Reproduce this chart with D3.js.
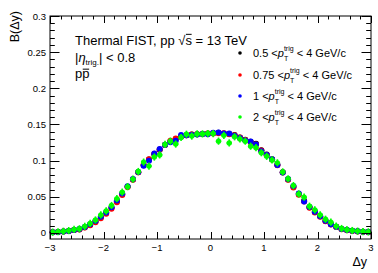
<!DOCTYPE html>
<html><head><meta charset="utf-8">
<script src="https://cdn.jsdelivr.net/npm/d3@7"></script>
<style>
html,body{margin:0;padding:0;background:#fff;}
svg{display:block;font-family:"Liberation Sans",Arial,Helvetica,sans-serif;}
svg text{white-space:pre;}
</style></head><body>
<svg id="chart" width="378" height="273"></svg>
<script>
// ---- data ----
const deltaY = [-2.95,-2.85,-2.75,-2.65,-2.55,-2.45,-2.35,-2.25,-2.15,-2.05,-1.95,-1.85,-1.75,-1.65,-1.55,-1.45,-1.35,-1.25,-1.15,-1.05,-0.95,-0.85,-0.75,-0.65,-0.55,-0.45,-0.35,-0.25,-0.15,-0.05,
  0.05,0.15,0.25,0.35,0.45,0.55,0.65,0.75,0.85,0.95,1.05,1.15,1.25,1.35,1.45,1.55,1.65,1.75,1.85,1.95,2.05,2.15,2.25,2.35,2.45,2.55,2.65,2.75,2.85,2.95];
const seriesPt05 = [0.0010,0.0014,0.0020,0.0028,0.0042,0.0052,0.0080,0.0115,0.0160,0.0220,0.0280,0.0350,0.0440,0.0535,0.0640,0.0740,0.0840,0.0935,0.1015,0.1090,0.1150,0.1215,0.1265,0.1300,0.1330,0.1350,0.1360,0.1365,0.1370,0.1375,
  0.1380,0.1385,0.1375,0.1370,0.1355,0.1320,0.1290,0.1260,0.1235,0.1145,0.1085,0.1020,0.0945,0.0840,0.0740,0.0640,0.0540,0.0445,0.0355,0.0290,0.0230,0.0165,0.0120,0.0085,0.0055,0.0040,0.0030,0.0023,0.0017,0.0013];
const seriesPt075 = [0.0009,0.0013,0.0019,0.0027,0.0040,0.0050,0.0075,0.0108,0.0150,0.0205,0.0265,0.0335,0.0425,0.0525,0.0635,0.0735,0.0840,0.0945,0.1020,0.1095,0.1155,0.1220,0.1275,0.1305,0.1335,0.1350,0.1360,0.1365,0.1370,0.1375,
  0.1375,0.1380,0.1380,0.1365,0.1350,0.1320,0.1285,0.1255,0.1225,0.1140,0.1080,0.1015,0.0935,0.0835,0.0735,0.0630,0.0530,0.0435,0.0350,0.0285,0.0225,0.0162,0.0118,0.0082,0.0053,0.0039,0.0029,0.0022,0.0016,0.0012];
const seriesPt1 = [0.0010,0.0014,0.0020,0.0029,0.0043,0.0054,0.0083,0.0120,0.0165,0.0225,0.0285,0.0355,0.0450,0.0545,0.0645,0.0745,0.0845,0.0930,0.1000,0.1100,0.1160,0.1220,0.1255,0.1275,0.1355,0.1350,0.1355,0.1360,0.1370,0.1365,
  0.1385,0.1390,0.1375,0.1375,0.1345,0.1315,0.1280,0.1265,0.1225,0.1130,0.1080,0.1020,0.0940,0.0835,0.0745,0.0650,0.0545,0.0435,0.0360,0.0295,0.0232,0.0168,0.0122,0.0086,0.0056,0.0041,0.0031,0.0024,0.0018,0.0014];
const seriesPt2 = [0.0012,0.0017,0.0024,0.0033,0.0050,0.0058,0.0092,0.0132,0.0180,0.0250,0.0305,0.0380,0.0475,0.0565,0.0640,0.0745,0.0850,0.0980,0.0925,0.1050,0.1080,0.1225,0.1270,0.1230,0.1320,0.1365,0.1340,0.1370,0.1370,0.1375,
  0.1375,0.1270,0.1350,0.1245,0.1330,0.1300,0.1270,0.1200,0.1180,0.1110,0.1060,0.1010,0.0970,0.0845,0.0750,0.0655,0.0540,0.0495,0.0370,0.0320,0.0250,0.0190,0.0150,0.0095,0.0062,0.0046,0.0034,0.0026,0.0020,0.0016];
const seriesLabels = ["0.5", "0.75", "1", "2"];
const seriesColors = ["#000000", "#ff0000", "#0000ff", "#00ff00"];
const xTicks = [-3,-2,-1,0,1,2,3];
const xTickLabels = ["\u22123","\u22122","\u22121","0","1","2","3"];
const yTicks = [0,0.05,0.1,0.15,0.2,0.25,0.3];
const yTickLabels = ["0","0.05","0.1","0.15","0.2","0.25","0.3"];

// ---- layout ----
const L=50, R=371, T=16, B=239;
const svg = d3.select("#chart");
const x = d3.scaleLinear().domain([-3,3]).range([L,R]);
const y = d3.scaleLinear().domain([-0.0083,0.3]).range([B,T]);

// data points
const allSeries = [seriesPt05, seriesPt075, seriesPt1, seriesPt2];
allSeries.forEach((vals,si)=>{
  const g = svg.append("g");
  const pts = deltaY.map((d,i)=>({d, v:vals[i]}));
  if (si===3) {
    g.selectAll("line.h").data(pts).enter().append("line")
      .attr("x1",p=>x(p.d-0.05)).attr("x2",p=>x(p.d+0.05))
      .attr("y1",p=>y(p.v)).attr("y2",p=>y(p.v))
      .attr("stroke",seriesColors[si]).attr("stroke-width",1.6);
    g.selectAll("line.v").data(pts).enter().append("line")
      .attr("x1",p=>x(p.d)).attr("x2",p=>x(p.d))
      .attr("y1",p=>y(p.v)-3.6).attr("y2",p=>y(p.v)+3.6)
      .attr("stroke",seriesColors[si]).attr("stroke-width",1.6);
  }
  g.selectAll("circle").data(pts).enter().append("circle")
    .attr("cx",p=>x(p.d)).attr("cy",p=>y(p.v))
    .attr("r", si===3 ? 2.7 : 3).attr("fill",seriesColors[si]);
});

// frame
svg.append("rect").attr("x",L).attr("y",T).attr("width",R-L).attr("height",B-T)
  .attr("fill","none").attr("stroke","#000").attr("stroke-width",1);

// ticks
const ax = svg.append("g").attr("stroke","#000").attr("stroke-width",1);
const xMinor = d3.range(-3,3.0001,0.2);
xMinor.forEach(v=>{
  const isMajor = Math.abs(v-Math.round(v))<1e-6;
  const len = isMajor?7:3.5;
  const px = Math.round(x(v))+0.5;
  ax.append("line").attr("x1",px).attr("x2",px).attr("y1",B).attr("y2",B-len);
  ax.append("line").attr("x1",px).attr("x2",px).attr("y1",T).attr("y2",T+len);
});
const yMinor = d3.range(0,0.30001,0.01);
yMinor.forEach(v=>{
  const isMajor = Math.abs(v/0.05-Math.round(v/0.05))<1e-6;
  const len = isMajor?9.5:4.8;
  const py = Math.round(y(v))+0.5;
  ax.append("line").attr("x1",L).attr("x2",L+len).attr("y1",py).attr("y2",py);
  ax.append("line").attr("x1",R).attr("x2",R-len).attr("y1",py).attr("y2",py);
});

// tick labels
svg.append("g").selectAll("text").data(xTicks).enter().append("text")
  .attr("x",d=>x(d)).attr("y",B+12).attr("text-anchor","middle")
  .attr("font-size",9.5).text((d,i)=>xTickLabels[i]);
svg.append("g").selectAll("text").data(yTicks).enter().append("text")
  .attr("x",L-4).attr("y",d=>y(d)+3.5).attr("text-anchor","end")
  .attr("font-size",9.5).text((d,i)=>yTickLabels[i]);

// axis titles
svg.append("text").attr("transform",`translate(19,${T-5}) rotate(-90)`)
  .attr("text-anchor","end").attr("font-size",12.5).text("B(\u0394y)");
svg.append("text").attr("x",R-4).attr("y",B+27).attr("text-anchor","end")
  .attr("font-size",12.5).text("\u0394y");

// rich text helper
function rich(x0, yBase, segs, size){
  let cx = x0;
  const g = svg.append("g");
  let stackStart = null, stackW = 0;
  segs.forEach(s=>{
    const fs = s.size||size;
    const t = g.append("text").attr("y",yBase+(s.dy||0)).attr("font-size",fs)
      .attr("font-style",s.italic?"italic":"normal").text(s.t);
    if (s.stack) {
      t.attr("x",stackStart);
      const w = t.node().getComputedTextLength();
      stackW = Math.max(stackW,w);
      cx = stackStart + stackW;
    } else {
      t.attr("x",cx);
      const w = t.node().getComputedTextLength();
      stackStart = cx; stackW = w;
      if (s.over) {
        const oy = yBase - fs*(s.overH||0.8);
        g.append("line").attr("x1",cx+0.5).attr("x2",cx+w-0.3)
          .attr("y1",oy).attr("y2",oy)
          .attr("stroke","#000").attr("stroke-width",1);
      }
      cx += w + (s.gap||0);
    }
  });
  return g;
}

// labels
rich(75, 45, [{t:"Thermal FIST, pp "},{t:"\u221A"},{t:"s",over:true,overH:0.82},{t:" = 13 TeV"}], 13);
rich(75, 62, [{t:"|"},{t:"\u03B7",italic:true},{t:"trig.",size:8,dy:3},{t:"| < 0.8"}], 13);
rich(75, 78, [{t:"p"},{t:"p",over:true,overH:0.68}], 13);

// legend
const legY = [53,75,96,117];
seriesLabels.forEach((lab,i)=>{
  svg.append("circle").attr("cx",240).attr("cy",legY[i]).attr("r",1.8).attr("fill",seriesColors[i]);
  rich(253, legY[i]+4, [{t:lab+" <"},{t:"p",italic:true},{t:"trig",size:7,dy:-6},{t:"T",size:7,dy:4,stack:true},{t:" < 4 GeV/c"}], 11);
});
</script>
</body></html>
